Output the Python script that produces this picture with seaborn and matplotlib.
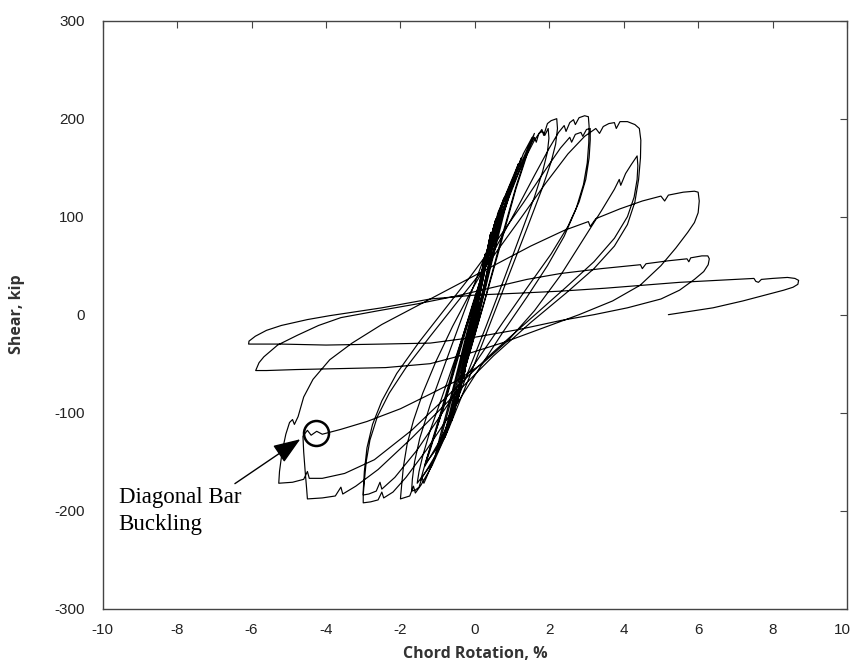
import matplotlib
matplotlib.use("Agg")
import matplotlib.pyplot as plt
import matplotlib.transforms as mtransforms
import pandas as pd
import seaborn as sns

# hysteresis path, as (rotation %, shear kip) vertices
cyc_025 = [(0, 0), (0.08, 22), (0.17, 42), (0.27, 60), (0.22, 50), (0.1, 22), (0.0, 2), (-0.12, -24),
           (-0.22, -46), (-0.3, -63), (-0.25, -52), (-0.12, -25), (0.0, 0), (0.1, 24), (0.2, 46),
           (0.28, 62), (0.23, 51), (0.1, 20), (-0.02, -2), (-0.13, -26), (-0.23, -48), (-0.3, -65)]
cyc_04 = [(-0.24, -50), (-0.1, -18), (0.04, 10), (0.18, 38), (0.32, 64), (0.42, 82), (0.36, 70),
          (0.2, 38), (0.05, 6), (-0.1, -22), (-0.26, -52), (-0.38, -74), (-0.45, -86), (-0.38, -72),
          (-0.22, -40), (-0.06, -8), (0.1, 22), (0.26, 52), (0.43, 84), (0.37, 72), (0.2, 36),
          (0.04, 4), (-0.12, -26), (-0.28, -56), (-0.46, -88)]
cyc_06 = [(-0.38, -70), (-0.2, -34), (0.0, 2), (0.2, 40), (0.38, 72), (0.56, 97), (0.48, 86),
          (0.3, 52), (0.1, 14), (-0.1, -24), (-0.32, -62), (-0.5, -92), (-0.6, -105), (-0.5, -88),
          (-0.3, -50), (-0.08, -10), (0.14, 30), (0.36, 70), (0.57, 98), (0.49, 87), (0.3, 50),
          (0.08, 10), (-0.14, -30), (-0.36, -70), (-0.62, -108)]
cyc_08 = [(-0.5, -88), (-0.28, -46), (-0.05, -4), (0.18, 36), (0.4, 72), (0.62, 102), (0.78, 119),
          (0.7, 108), (0.5, 74), (0.25, 30), (0.0, -10), (-0.25, -50), (-0.5, -90), (-0.68, -112),
          (-0.8, -125), (-0.7, -108), (-0.45, -70), (-0.18, -24), (0.1, 22), (0.38, 68), (0.62, 104),
          (0.8, 120), (0.71, 108), (0.48, 70), (0.2, 22), (-0.06, -20), (-0.32, -62), (-0.6, -104),
          (-0.85, -128)]
cyc_10 = [(-0.74, -110), (-0.45, -64), (-0.15, -14), (0.15, 34), (0.45, 80), (0.75, 115), (1.0, 137),
          (0.9, 126), (0.65, 90), (0.35, 42), (0.05, -6), (-0.25, -52), (-0.55, -96), (-0.8, -124),
          (-1.0, -139), (-0.9, -124), (-0.6, -82), (-0.28, -32), (0.05, 18), (0.38, 66), (0.7, 108),
          (1.05, 140), (0.94, 128), (0.66, 90), (0.32, 36), (0.0, -14), (-0.3, -60), (-0.62, -104),
          (-1.05, -142)]
cyc_12 = [(-0.95, -126), (-0.62, -80), (-0.28, -28), (0.06, 22), (0.4, 70), (0.8, 120), (1.17, 154),
          (1.06, 142), (0.76, 104), (0.4, 48), (0.05, -8), (-0.3, -60), (-0.7, -110), (-1.05, -138),
          (-1.33, -152), (-1.2, -136), (-0.85, -96), (-0.45, -44), (-0.05, 10), (0.38, 66),
          (0.82, 120), (1.25, 160), (1.12, 146), (0.8, 106), (0.42, 48), (0.05, -10), (-0.35, -66),
          (-0.78, -118), (-1.35, -155)]
cyc_15 = [(-1.2, -138), (-0.8, -88), (-0.4, -34), (0.0, 16), (0.45, 70), (0.95, 128), (1.3, 164),
          (1.54, 181), (1.42, 168), (1.1, 130), (0.7, 76), (0.3, 20), (-0.1, -34), (-0.55, -92),
          (-1.0, -140), (-1.46, -169), (-1.32, -150), (-0.95, -104), (-0.5, -44), (-0.05, 12),
          (0.45, 70), (1.0, 134), (1.6, 185), (1.46, 170), (1.1, 128), (0.68, 70), (0.25, 12),
          (-0.2, -46), (-0.7, -108), (-1.15, -152), (-1.55, -172)]
cyc_20 = [(-1.5, -160), (-1.4, -144), (-1.2, -118), (-0.9, -86), (-0.5, -42), (-0.05, 10), (0.45, 68),
          (0.9, 118), (1.25, 152), (1.45, 170), (1.6, 181), (1.65, 176), (1.72, 185), (1.82, 187),
          (1.88, 183), (1.97, 190), (1.99, 180), (1.95, 166), (1.82, 146), (1.6, 120), (1.25, 84),
          (0.8, 38), (0.3, -12), (-0.2, -60), (-0.7, -110), (-1.1, -148), (-1.3, -166),
          (-1.37, -172), (-1.42, -166), (-1.5, -176), (-1.6, -179), (-1.7, -180),
          (-1.68, -168), (-1.62, -150), (-1.48, -126), (-1.2, -92), (-0.8, -50), (-0.3, 2),
          (0.25, 58), (0.8, 112), (1.25, 152), (1.6, 178), (1.8, 189), (1.85, 183), (1.95, 195),
          (2.05, 198), (2.2, 200), (2.22, 190), (2.17, 174), (2.05, 156), (1.8, 128), (1.42, 90),
          (0.95, 44), (0.4, -10), (-0.15, -64), (-0.7, -116), (-1.15, -154), (-1.45, -174),
          (-1.6, -182), (-1.65, -175), (-1.75, -185), (-2.0, -188)]
cyc_30 = [(-1.97, -175), (-1.92, -155), (-1.82, -132), (-1.65, -108), (-1.4, -80), (-1.05, -48),
          (-0.6, -12), (-0.1, 24), (0.5, 64), (1.1, 106), (1.6, 142), (2.0, 170), (2.25, 186),
          (2.4, 193), (2.45, 187), (2.55, 196), (2.65, 199), (2.7, 194), (2.8, 201), (2.95, 203),
          (3.05, 202), (3.07, 192), (3.06, 175), (3.02, 155), (2.92, 133), (2.72, 108), (2.4, 80),
          (1.95, 50), (1.4, 18), (0.75, -18), (0.1, -56), (-0.6, -98), (-1.3, -138), (-1.85, -166),
          (-2.2, -181), (-2.45, -187), (-2.5, -181), (-2.6, -189), (-2.8, -191), (-3.0, -192),
          (-3.0, -180), (-2.97, -160), (-2.9, -136), (-2.75, -112), (-2.5, -88), (-2.1, -60),
          (-1.5, -28), (-0.8, 6), (-0.1, 40), (0.6, 76), (1.3, 114), (1.9, 148), (2.3, 170),
          (2.55, 181), (2.6, 176), (2.7, 184), (2.85, 186), (2.9, 182), (3.0, 189), (3.1, 190),
          (3.1, 178), (3.07, 160), (2.98, 138), (2.8, 115), (2.5, 90), (2.05, 62), (1.45, 30),
          (0.75, -8), (0.0, -50), (-0.8, -96), (-1.55, -138), (-2.15, -166), (-2.5, -178),
          (-2.55, -171), (-2.65, -180), (-2.85, -183), (-3.0, -184)]
cyc_40 = [(-2.97, -170), (-2.92, -150), (-2.82, -128), (-2.62, -104), (-2.3, -80), (-1.85, -54),
          (-1.2, -22), (-0.45, 14), (0.35, 52), (1.15, 94), (1.9, 134), (2.5, 164), (2.95, 182),
          (3.25, 190), (3.35, 185), (3.45, 192), (3.6, 195), (3.75, 196), (3.8, 190), (3.9, 197),
          (4.1, 197), (4.3, 194), (4.42, 190), (4.46, 178), (4.45, 160), (4.4, 138), (4.3, 115),
          (4.1, 92), (3.75, 70), (3.2, 47), (2.45, 22), (1.5, -8), (0.5, -42), (-0.6, -84),
          (-1.7, -126), (-2.6, -158), (-3.2, -175), (-3.55, -183), (-3.6, -176), (-3.75, -185),
          (-4.1, -187), (-4.5, -188),
          (-4.52, -178), (-4.56, -160), (-4.6, -140), (-4.62, -124), (-4.5, -118), (-4.4, -123),
          (-4.25, -119), (-4.1, -122), (-3.6, -117), (-2.9, -109), (-2.0, -96), (-1.2, -81),
          (-0.47, -67), (0.2, -50), (0.9, -26), (1.6, 4), (2.3, 40), (2.9, 76), (3.4, 106),
          (3.75, 128), (3.88, 138), (3.92, 132), (4.05, 144), (4.2, 153), (4.36, 162), (4.38, 152),
          (4.36, 138), (4.28, 120), (4.1, 100), (3.75, 78), (3.2, 54), (2.45, 28), (1.5, -4),
          (0.5, -38), (-0.6, -78), (-1.7, -118), (-2.7, -148), (-3.5, -162), (-4.1, -167),
          (-4.45, -167), (-4.5, -160), (-4.6, -168), (-4.9, -171), (-5.27, -172)]
cyc_60 = [(-5.25, -160), (-5.18, -140), (-5.08, -122), (-4.98, -110), (-4.9, -107), (-4.85, -112),
          (-4.75, -104), (-4.6, -84), (-4.35, -66), (-3.9, -46), (-3.3, -29), (-2.5, -10),
          (-1.5, 10), (-0.5, 30), (0.5, 50), (1.5, 70), (2.4, 86), (3.05, 95), (3.1, 90),
          (3.25, 98), (3.9, 108), (4.5, 116), (5.0, 121), (5.1, 116), (5.2, 122), (5.6, 125),
          (5.9, 126), (6.0, 125), (6.03, 116), (6.0, 104), (5.9, 94), (5.72, 84), (5.4, 68),
          (5.0, 50), (4.44, 30), (3.7, 14), (2.8, 0), (1.8, -14), (0.8, -28), (-0.2, -40),
          (-1.2, -50), (-2.4, -54), (-3.6, -55), (-4.8, -56), (-5.6, -57), (-5.89, -57),
          (-5.8, -49), (-5.67, -43), (-5.3, -31), (-4.77, -21), (-4.2, -11), (-3.6, -3),
          (-2.6, 4), (-1.55, 11), (-0.5, 19), (0.5, 28), (1.4, 36), (2.3, 42), (3.4, 47),
          (4.45, 51), (4.5, 47), (4.6, 52), (5.2, 55), (5.7, 57), (5.75, 54), (5.8, 58),
          (6.1, 60), (6.26, 60), (6.3, 57), (6.27, 51), (6.15, 44), (5.9, 36), (5.5, 25),
          (5.0, 16), (4.1, 7), (3.2, 0), (2.3, -6), (1.2, -15), (0.0, -23), (-1.2, -29),
          (-2.5, -30), (-4.0, -31), (-5.2, -30), (-5.8, -30), (-6.08, -30)]
cyc_80 = [(-6.07, -27), (-5.9, -22), (-5.6, -16), (-5.2, -11), (-4.5, -5), (-3.9, -1), (-2.5, 7),
          (-1.2, 16), (0.0, 20), (1.2, 22), (2.3, 24), (3.5, 27), (4.5, 30), (5.5, 33), (6.5, 35),
          (7.5, 37), (7.55, 34), (7.62, 33), (7.7, 36), (8.0, 37), (8.4, 38), (8.6, 37),
          (8.7, 35), (8.68, 31), (8.55, 28), (8.3, 25), (7.8, 20), (7.2, 14), (6.4, 7), (5.2, 0)]

x_ticks = [-10, -8, -6, -4, -2, 0, 2, 4, 6, 8, 10]
y_ticks = [-300, -200, -100, 0, 100, 200, 300]
buckle_pt = (-4.28, -121)
note_text = "Diagonal Bar\nBuckling"

cycles = [cyc_025, cyc_04, cyc_06, cyc_08, cyc_10, cyc_12, cyc_15,
          cyc_20, cyc_30, cyc_40, cyc_60, cyc_80]
rot, shear = [], []
for c in cycles:
    for x, y in c:
        rot.append(x)
        shear.append(y)
df = pd.DataFrame({"rotation": rot, "shear": shear})

sns.set_theme(style="white")
plt.rcParams["font.family"] = ["Liberation Sans", "DejaVu Sans"]
plt.rcParams["axes.unicode_minus"] = False

fig = plt.figure(figsize=(8.54, 6.65), dpi=100)
ax = fig.add_axes([0.1203, 0.0847, 0.8715, 0.8842])
sns.lineplot(data=df, x="rotation", y="shear", sort=False, estimator=None,
             color="black", lw=0.85, ax=ax)

ax.set_xlim(-10, 10)
ax.set_ylim(-300, 300)
ax.set_xticks(x_ticks)
ax.set_yticks(y_ticks)
ax.tick_params(direction="in", length=5, width=0.8, color="#444444",
               top=True, right=True, labelsize=11, labelcolor="#222222")
ax.tick_params(axis="x", pad=10)
ax.tick_params(axis="y", pad=13)
for s in ax.spines.values():
    s.set_color("#444444")
    s.set_linewidth(1.0)

# last x label sits a little inside the figure edge, as in the source
last = ax.get_xticklabels()[-1]
last.set_transform(last.get_transform() +
                   mtransforms.ScaledTranslation(-0.05, 0, fig.dpi_scale_trans))

ax.set_xlabel("Chord Rotation, %", family="Open Sans", weight="bold", fontsize=11.5, color="#333333")
ax.set_ylabel("Shear, kip", family="Open Sans", weight="bold", fontsize=11.5, color="#333333")
ax.xaxis.set_label_coords(0.5, -0.064)
ax.yaxis.set_label_coords(-0.104, 0.5)

# annotation
ax.plot([buckle_pt[0]], [buckle_pt[1]], marker="o", ms=18, mfc="none", mec="black", mew=1.8)
ax.annotate("", xy=(-4.63, -125.5), xytext=(-6.51, -174),
            arrowprops=dict(arrowstyle="-|>,head_length=1.2,head_width=0.45",
                            color="black", lw=1.0, mutation_scale=14))
ax.text(-9.57, -176, note_text, family="Liberation Serif", fontsize=16.5,
        va="top", ha="left", linespacing=1.35, color="black")

fig.savefig("out.png", dpi=100)
